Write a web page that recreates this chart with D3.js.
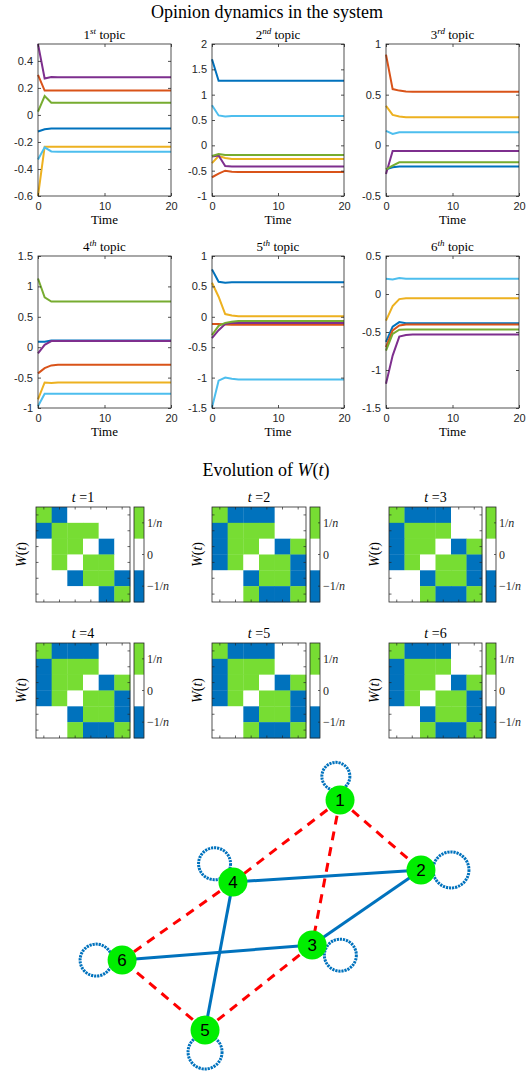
<!DOCTYPE html>
<html>
<head>
<meta charset="utf-8">
<script src="https://cdn.jsdelivr.net/npm/d3@7"></script>
<style>
body { margin: 0; background: #fff; }
</style>
</head>
<body>
<script>
// time steps shown (values are flat after t=4)
var times = [0, 1, 2, 3, 4, 20];

// series order: blue, orange, yellow, purple, green, light blue
var colors = ['#0072BD', '#D95319', '#EDB120', '#7E2F8E', '#77AC30', '#4DBEEE'];

var topic1 = [
    [-0.123, -0.106, -0.10, -0.10, -0.10, -0.10],
    [0.296, 0.18, 0.18, 0.18, 0.18, 0.18],
    [-0.60, -0.235, -0.235, -0.235, -0.235, -0.235],
    [0.525, 0.27, 0.28, 0.279, 0.279, 0.279],
    [0.025, 0.14, 0.09, 0.09, 0.09, 0.09],
    [-0.33, -0.24, -0.27, -0.272, -0.272, -0.272]
];
var topic2 = [
    [1.70, 1.275, 1.275, 1.275, 1.275, 1.275],
    [-0.63, -0.56, -0.50, -0.52, -0.525, -0.525],
    [-0.35, -0.21, -0.25, -0.27, -0.27, -0.27],
    [-0.22, -0.20, -0.41, -0.42, -0.42, -0.42],
    [-0.21, -0.17, -0.19, -0.19, -0.19, -0.19],
    [0.79, 0.59, 0.57, 0.58, 0.58, 0.58]
];
var topic3 = [
    [-0.237, -0.217, -0.21, -0.21, -0.21, -0.21],
    [0.895, 0.555, 0.54, 0.532, 0.53, 0.53],
    [0.39, 0.30, 0.285, 0.278, 0.278, 0.278],
    [-0.283, -0.055, -0.055, -0.055, -0.055, -0.055],
    [-0.237, -0.20, -0.167, -0.167, -0.167, -0.167],
    [0.143, 0.113, 0.13, 0.13, 0.13, 0.13]
];
var topic4 = [
    [0.09, 0.09, 0.11, 0.11, 0.11, 0.11],
    [-0.43, -0.345, -0.30, -0.29, -0.29, -0.29],
    [-0.86, -0.58, -0.59, -0.58, -0.58, -0.58],
    [-0.10, 0.04, 0.10, 0.10, 0.10, 0.10],
    [1.13, 0.82, 0.75, 0.75, 0.75, 0.75],
    [-0.97, -0.765, -0.765, -0.765, -0.765, -0.765]
];
var topic5 = [
    [0.78, 0.575, 0.56, 0.57, 0.57, 0.57],
    [-0.12, -0.12, -0.125, -0.13, -0.13, -0.13],
    [0.56, 0.33, 0.045, 0.02, 0.01, 0.01],
    [-0.35, -0.22, -0.12, -0.10, -0.10, -0.10],
    [-0.30, -0.15, -0.10, -0.08, -0.07, -0.07],
    [-1.49, -1.05, -1.00, -1.02, -1.03, -1.03]
];
var topic6 = [
    [-0.63, -0.43, -0.37, -0.385, -0.385, -0.385],
    [-0.70, -0.48, -0.414, -0.40, -0.40, -0.40],
    [-0.35, -0.16, -0.067, -0.055, -0.055, -0.055],
    [-1.18, -0.81, -0.56, -0.54, -0.533, -0.533],
    [-0.745, -0.525, -0.47, -0.467, -0.467, -0.467],
    [0.20, 0.19, 0.21, 0.20, 0.20, 0.20]
];
var topics = [topic1, topic2, topic3, topic4, topic5, topic6];
var topicNums = ['1', '2', '3', '4', '5', '6'];
var topicSups = ['st', 'nd', 'rd', 'th', 'th', 'th'];
var yDomains = [[-0.6, 0.525], [-1, 2], [-0.5, 1], [-1, 1.5], [-1.5, 1], [-1.5, 0.5]];
var yTicks = [
    [-0.6, -0.4, -0.2, 0, 0.2, 0.4],
    [-1, -0.5, 0, 0.5, 1, 1.5, 2],
    [-0.5, 0, 0.5, 1],
    [-1, -0.5, 0, 0.5, 1, 1.5],
    [-1.5, -1, -0.5, 0, 0.5, 1],
    [-1.5, -1, -0.5, 0, 0.5]
];
var xTicks = [0, 10, 20];

// W(t): 1 -> 1/n, 0 -> 0, -1 -> -1/n
var W1 = [
    [1, -1, 0, 0, 0, 0],
    [-1, 1, 1, 1, 0, 0],
    [0, 1, 1, 0, -1, 0],
    [0, 1, 0, 1, 1, 0],
    [0, 0, -1, 1, 1, -1],
    [0, 0, 0, 0, -1, 1]
];
var W2 = [
    [1, -1, -1, -1, 0, 0],
    [-1, 1, 1, 1, 0, 0],
    [-1, 1, 1, 0, -1, 1],
    [-1, 1, 0, 1, 1, -1],
    [0, 0, -1, 1, 1, -1],
    [0, 0, 1, -1, -1, 1]
];
var Wseq = [W1, W2, W2, W2, W2, W2];
var cbTicks = [1, 0, -1];

// graph layout (unit coordinates) and self-loop directions (deg)
var nodeX = [0.706, 0.944, 0.624, 0.391, 0.309, 0.065];
var nodeY = [0.0, 0.304, 0.630, 0.357, 1.0, 0.696];
var loopAngle = [-100, 0, 20, -135, 90, 180];
var loopDist = [24, 30, 30, 26, 22, 26];
var loopRad = [14, 18, 16, 16, 17, 16];

var W = 529, H = 1072;
var svg = d3.select('body').append('svg')
    .attr('width', W)
    .attr('height', H);

var serif = '"Liberation Serif", "DejaVu Serif", serif';
var sans = '"Liberation Sans", Arial, sans-serif';
var axisCol = '#262626';

svg.append('text')
    .attr('x', 267).attr('y', 18)
    .attr('font-family', serif).attr('font-size', 18)
    .attr('text-anchor', 'middle')
    .text('Opinion dynamics in the system');

var colX = [[38, 171], [212, 344], [386, 519]];
var rowY = [[44, 196], [256, 408]];

topics.forEach(function(series, i) {
    var cx = colX[i % 3], ry = rowY[Math.floor(i / 3)];
    var x = d3.scaleLinear().domain([0, 20]).range(cx);
    var y = d3.scaleLinear().domain(yDomains[i]).range([ry[1], ry[0]]);
    var g = svg.append('g');

    var clipId = 'clip' + i;
    g.append('clipPath').attr('id', clipId)
        .append('rect')
        .attr('x', cx[0] - 1).attr('y', ry[0] - 1)
        .attr('width', cx[1] - cx[0] + 2).attr('height', ry[1] - ry[0] + 2);

    var line = d3.line()
        .x(function(d, k) { return x(times[k]); })
        .y(function(d) { return y(d); });

    g.append('g').attr('clip-path', 'url(#' + clipId + ')')
        .selectAll('path').data(series).enter()
        .append('path')
        .attr('d', line)
        .attr('fill', 'none')
        .attr('stroke', function(d, k) { return colors[k]; })
        .attr('stroke-width', 2);

    // axes (ticks inward, on all sides)
    var axL = d3.axisLeft(y).tickValues(yTicks[i]).tickSizeInner(-3).tickSizeOuter(0).tickPadding(5)
        .tickFormat(function(d) { return d3.format('')(d).replace('\u2212', '-'); });
    var axR = d3.axisRight(y).tickValues(yTicks[i]).tickSizeInner(-3).tickSizeOuter(0).tickFormat('');
    var axB = d3.axisBottom(x).tickValues(xTicks).tickSizeInner(-3).tickSizeOuter(0).tickPadding(6);
    var axT = d3.axisTop(x).tickValues(xTicks).tickSizeInner(-3).tickSizeOuter(0).tickFormat('');

    [[axL, 'translate(' + cx[0] + ',0)'], [axR, 'translate(' + cx[1] + ',0)'],
     [axB, 'translate(0,' + ry[1] + ')'], [axT, 'translate(0,' + ry[0] + ')']].forEach(function(a) {
        var ag = g.append('g').attr('transform', a[1]).call(a[0]);
        ag.select('.domain').remove();
        ag.selectAll('line').attr('stroke', axisCol).attr('stroke-width', 0.8);
        ag.selectAll('text').attr('font-family', sans).attr('font-size', 11).attr('fill', axisCol);
    });

    g.append('rect')
        .attr('x', cx[0]).attr('y', ry[0])
        .attr('width', cx[1] - cx[0]).attr('height', ry[1] - ry[0])
        .attr('fill', 'none').attr('stroke', axisCol).attr('stroke-width', 0.8);

    var t = g.append('text')
        .attr('x', (cx[0] + cx[1]) / 2).attr('y', ry[0] - 5)
        .attr('font-family', serif).attr('font-size', 13)
        .attr('text-anchor', 'middle');
    t.append('tspan').text(topicNums[i]);
    t.append('tspan').attr('font-size', 9).attr('font-style', 'italic').attr('dy', -5).text(topicSups[i]);
    t.append('tspan').attr('dy', 5).text(' topic');

    g.append('text')
        .attr('x', (cx[0] + cx[1]) / 2).attr('y', ry[1] + 28)
        .attr('font-family', serif).attr('font-size', 13)
        .attr('text-anchor', 'middle')
        .text('Time');
});

// Evolution of W(t)
var et = svg.append('text')
    .attr('x', 266).attr('y', 476)
    .attr('font-family', serif).attr('font-size', 18)
    .attr('text-anchor', 'middle');
et.append('tspan').text('Evolution of ');
et.append('tspan').attr('font-style', 'italic').text('W');
et.append('tspan').text('(');
et.append('tspan').attr('font-style', 'italic').text('t');
et.append('tspan').text(')');

var cellColor = d3.scaleOrdinal().domain([1, 0, -1]).range(['#77DD33', '#ffffff', '#0072BD']);
var hmX = [[36, 130], [212, 306], [389, 482]];
var hmY = [[507, 602], [643, 738]];

Wseq.forEach(function(M, i) {
    var bx = hmX[i % 3], by = hmY[Math.floor(i / 3)];
    var idx = d3.range(6);
    var x = d3.scaleBand().domain(idx).range(bx);
    var y = d3.scaleBand().domain(idx).range(by);
    var g = svg.append('g');

    var cells = [];
    M.forEach(function(row, r) { row.forEach(function(v, c) { cells.push({r: r, c: c, v: v}); }); });

    g.selectAll('rect.cell').data(cells).enter()
        .append('rect')
        .attr('x', function(d) { return x(d.c); })
        .attr('y', function(d) { return y(d.r); })
        .attr('width', x.bandwidth() + 0.3)
        .attr('height', y.bandwidth() + 0.3)
        .attr('fill', function(d) { return cellColor(d.v); });

    // inner ticks at cell centres
    var tl = 2.5;
    idx.forEach(function(k) {
        var px = x(k) + x.bandwidth() / 2, py = y(k) + y.bandwidth() / 2;
        [[px, by[0], px, by[0] + tl], [px, by[1], px, by[1] - tl],
         [bx[0], py, bx[0] + tl, py], [bx[1], py, bx[1] - tl, py]].forEach(function(s) {
            g.append('line').attr('x1', s[0]).attr('y1', s[1]).attr('x2', s[2]).attr('y2', s[3])
                .attr('stroke', axisCol).attr('stroke-width', 0.7);
        });
    });

    g.append('rect')
        .attr('x', bx[0]).attr('y', by[0])
        .attr('width', bx[1] - bx[0]).attr('height', by[1] - by[0])
        .attr('fill', 'none').attr('stroke', axisCol).attr('stroke-width', 0.8);

    var tt = g.append('text')
        .attr('x', (bx[0] + bx[1]) / 2).attr('y', by[0] - 5)
        .attr('font-family', serif).attr('font-size', 14)
        .attr('text-anchor', 'middle');
    tt.append('tspan').attr('font-style', 'italic').text('t');
    tt.append('tspan').text(' =' + (i + 1));

    var yl = g.append('text')
        .attr('transform', 'translate(' + (bx[0] - 10) + ',' + ((by[0] + by[1]) / 2) + ') rotate(-90)')
        .attr('font-family', serif).attr('font-size', 14)
        .attr('text-anchor', 'middle');
    yl.append('tspan').attr('font-style', 'italic').text('W');
    yl.append('tspan').text('(');
    yl.append('tspan').attr('font-style', 'italic').text('t');
    yl.append('tspan').text(')');

    // colorbar
    var cbx = bx[1] + 4, cbw = 10;
    var cy = d3.scaleBand().domain(cbTicks).range(by);
    g.selectAll('rect.cb').data(cbTicks).enter()
        .append('rect')
        .attr('x', cbx).attr('y', function(d) { return cy(d); })
        .attr('width', cbw).attr('height', cy.bandwidth() + 0.3)
        .attr('fill', function(d) { return cellColor(d); });
    g.append('rect')
        .attr('x', cbx).attr('y', by[0])
        .attr('width', cbw).attr('height', by[1] - by[0])
        .attr('fill', 'none').attr('stroke', axisCol).attr('stroke-width', 0.8);

    cbTicks.forEach(function(v) {
        var py = cy(v) + cy.bandwidth() / 2;
        g.append('line').attr('x1', cbx + cbw).attr('x2', cbx + cbw - 2).attr('y1', py).attr('y2', py)
            .attr('stroke', axisCol).attr('stroke-width', 0.7);
        var lt = g.append('text')
            .attr('x', cbx + cbw + 3).attr('y', py + 4)
            .attr('font-family', serif).attr('font-size', 12).attr('fill', axisCol);
        if (v === 0) {
            lt.text('0');
        } else {
            lt.append('tspan').text(v > 0 ? '1/' : '\u22121/');
            lt.append('tspan').attr('font-style', 'italic').text('n');
        }
    });
});

// network built from the last W(t)
var gx = d3.scaleLinear().domain([0, 1]).range([100, 440]);
var gy = d3.scaleLinear().domain([0, 1]).range([800, 1030]);
var Wlast = Wseq[Wseq.length - 1];
var edges = [];
Wlast.forEach(function(row, r) {
    row.forEach(function(v, c) { if (c > r && v !== 0) edges.push({a: r, b: c, v: v}); });
});

var gg = svg.append('g');
d3.range(6).forEach(function(k) {
    var a = loopAngle[k] * Math.PI / 180;
    gg.append('circle')
        .attr('cx', gx(nodeX[k]) + loopDist[k] * Math.cos(a))
        .attr('cy', gy(nodeY[k]) + loopDist[k] * Math.sin(a))
        .attr('r', loopRad[k])
        .attr('fill', 'none')
        .attr('stroke', '#0072BD')
        .attr('stroke-width', 3)
        .attr('stroke-dasharray', '2.2,0.9');
});

gg.selectAll('line.edge').data(edges).enter()
    .append('line')
    .attr('x1', function(d) { return gx(nodeX[d.a]); })
    .attr('y1', function(d) { return gy(nodeY[d.a]); })
    .attr('x2', function(d) { return gx(nodeX[d.b]); })
    .attr('y2', function(d) { return gy(nodeY[d.b]); })
    .attr('stroke', function(d) { return d.v > 0 ? '#0072BD' : '#FF0000'; })
    .attr('stroke-width', 3)
    .attr('stroke-dasharray', function(d) { return d.v > 0 ? null : '9,7'; });

var nodes = gg.selectAll('g.node').data(d3.range(6)).enter()
    .append('g')
    .attr('transform', function(k) { return 'translate(' + gx(nodeX[k]) + ',' + gy(nodeY[k]) + ')'; });
nodes.append('circle').attr('r', 14.5).attr('fill', '#00EE00');
nodes.append('text')
    .attr('y', 6)
    .attr('text-anchor', 'middle')
    .attr('font-family', sans).attr('font-size', 17)
    .text(function(k) { return k + 1; });
</script>
</body>
</html>
